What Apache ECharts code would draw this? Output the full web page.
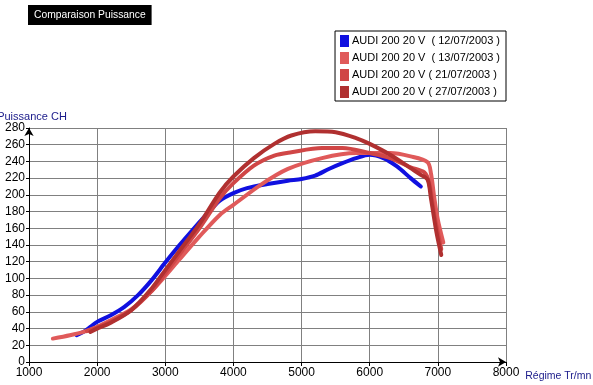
<!DOCTYPE html>
<html>
<head>
<meta charset="utf-8">
<script src="https://cdn.jsdelivr.net/npm/echarts@6/dist/echarts.min.js"></script>
<style>html,body{margin:0;padding:0;background:#fff}#c{width:593px;height:385px}</style>
</head>
<body>
<div id="c"></div>
<script>
const titleText = 'Comparaison Puissance';
const yAxisName = 'Puissance CH';
const xAxisName = 'Régime Tr/mn';
const seriesNames = [
  'AUDI 200 20 V  ( 12/07/2003 )',
  'AUDI 200 20 V  ( 13/07/2003 )',
  'AUDI 200 20 V ( 21/07/2003 )',
  'AUDI 200 20 V ( 27/07/2003 )'
];
const seriesColors = ['#1010e0', '#e05a5a', '#d04646', '#b03030'];

const rpm1207 = [1700,1800,1900,2000,2200,2400,2600,2800,3000,3200,3400,3600,3800,4000,4200,4500,4800,5000,5200,5400,5600,5800,6000,6200,6400,6600,6750];
const ch1207  = [32,36,42,48,56,66,80,98,119,139,158,176,193,202,208,213,217,219,223,231,238,244,248,244,234,220,210];

const rpm1307 = [1350,1600,1800,2000,2200,2500,2800,3000,3200,3500,3800,4000,4400,4800,5300,5800,6300,6600,6850,6900,6950,7000,7080];
const ch1307  = [28,32,36,42,50,63,85,103,122,150,176,188,212,231,244,250,250,246,239,225,195,170,143];

const rpm2107 = [1850,2000,2200,2500,2800,3000,3200,3500,3800,4000,4300,4600,4850,5300,5600,6000,6300,6600,6800,6870,6950,7050];
const ch2107  = [37,41,48,62,85,106,128,160,196,214,235,247,251,256,256,250,244,233,227,215,175,135];

const rpm2707 = [1900,2000,2200,2500,2800,3000,3200,3500,3800,4000,4300,4600,4850,5200,5500,5800,6000,6300,6600,6750,6850,6900,6980,7050];
const ch2707  = [36,40,47,62,88,110,132,165,203,222,244,261,271,276,275,268,261,248,232,224,218,195,155,128];

const allRpm = [rpm1207, rpm1307, rpm2107, rpm2707];
const allCh = [ch1207, ch1307, ch2107, ch2707];

const chart = echarts.init(document.getElementById('c'), null, {renderer: 'canvas'});
const font = 'Liberation Sans, Arial, sans-serif';
chart.setOption({
  backgroundColor: '#ffffff',
  animation: false,
  title: {
    text: titleText,
    left: 28, top: 5,
    backgroundColor: '#000000',
    padding: [5, 6, 5, 6],
    textStyle: {color: '#ffffff', fontSize: 10.3, fontWeight: 'normal', fontFamily: font}
  },
  legend: {
    orient: 'vertical',
    right: 87, top: 31,
    backgroundColor: '#ffffff',
    borderColor: '#000000',
    borderWidth: 1,
    borderRadius: 0,
    padding: [4, 6, 3, 5],
    itemGap: 5,
    itemWidth: 9, itemHeight: 12,
    icon: 'rect',
    textStyle: {color: '#000000', fontSize: 11, fontFamily: font, padding: [0,0,0,-2]},
    data: seriesNames
  },
  grid: {left: 29, right: 87, top: 128, bottom: 23, containLabel: false, outerBoundsMode: 'none'},
  xAxis: {
    type: 'value', min: 1000, max: 8000, interval: 1000,
    name: xAxisName, nameLocation: 'end', nameGap: 1,
    nameTextStyle: {color: '#1a1a8a', fontSize: 10.5, fontFamily: font, verticalAlign: 'top', padding: [9,0,0,0]},
    axisLine: {show: true, lineStyle: {color: '#000', width: 1}, symbol: ['none', 'arrow'], symbolSize: [7, 8]},
    axisTick: {show: true, inside: false, length: 4, lineStyle: {color: '#000'}},
    axisLabel: {color: '#000', fontSize: 12, fontFamily: font, margin: 5, formatter: v => String(v)},
    splitLine: {show: true, lineStyle: {color: '#808080', width: 1}}
  },
  yAxis: {
    type: 'value', min: 0, max: 280, interval: 20,
    name: yAxisName, nameLocation: 'end', nameGap: 6,
    nameTextStyle: {color: '#1a1a8a', fontSize: 11, fontFamily: font, align: 'center', padding: [0,0,0,6]},
    axisLine: {show: true, onZero: false, lineStyle: {color: '#000', width: 1}, symbol: ['none', 'arrow'], symbolSize: [7, 8]},
    axisTick: {show: true, inside: false, length: 3, lineStyle: {color: '#000'}},
    axisLabel: {color: '#000', fontSize: 12, fontFamily: font, margin: 4, formatter: v => String(v)},
    splitLine: {show: true, lineStyle: {color: '#808080', width: 1}}
  },
  series: seriesNames.map((n, i) => ({
    name: n,
    type: 'line',
    smooth: 0.3,
    symbol: 'none',
    color: seriesColors[i],
    lineStyle: {width: 4, color: seriesColors[i], cap: 'round', join: 'round'},
    data: allRpm[i].map((r, j) => [r, allCh[i][j]]),
    z: 2 + i
  }))
});
</script>
</body>
</html>
